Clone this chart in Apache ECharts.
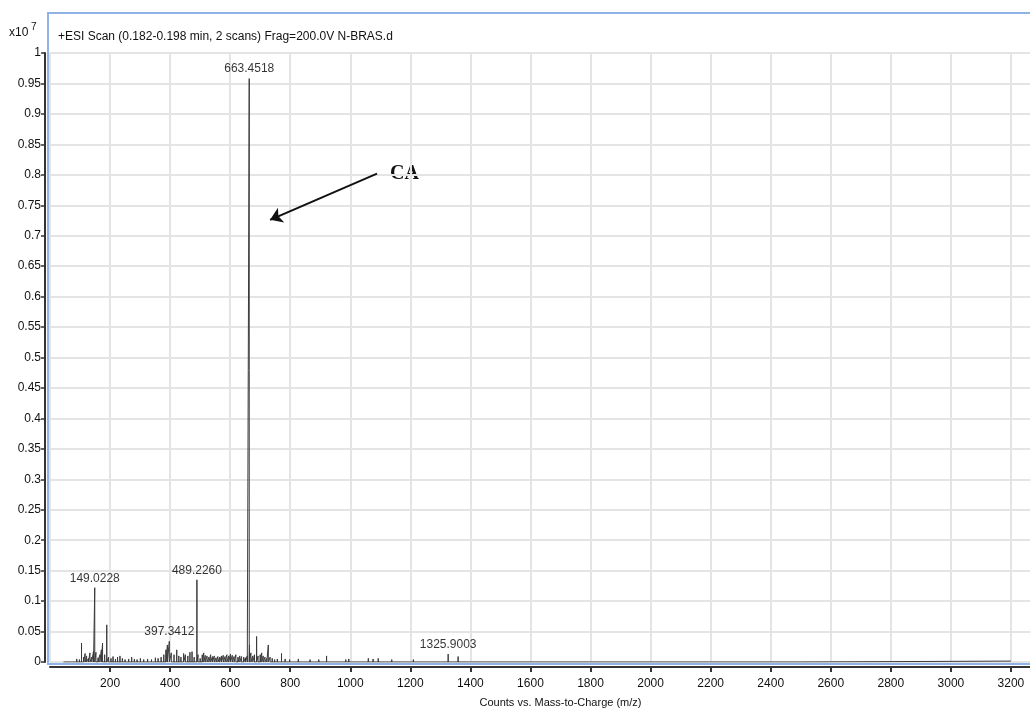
<!DOCTYPE html>
<html><head><meta charset="utf-8">
<script src="https://cdn.jsdelivr.net/npm/echarts@6/dist/echarts.min.js"></script>
<style>html,body{margin:0;padding:0;background:#fff}#c{width:1030px;height:710px}</style>
</head><body><div id="c"></div>
<script>
// ---- data (intensity in units of x10^7 counts) ----
const titleText = '+ESI Scan (0.182-0.198 min, 2 scans) Frag=200.0V N-BRAS.d';
const xAxisName = 'Counts vs. Mass-to-Charge (m/z)';
const peakMz = [72,89,98,105,112,117,122,128,133,139,145,149.0228,153,160,166,171,175,182,189,195,
  203,210,218,225,233,241,250,262,272,281,290,301,312,325,338,351,360,370,379,386,391,397.3412,404,413,
  422,429,436,445,451,459,466,473,480,489.2260,493,500,507,512,517,523,529,535,541,547,553,559,565,571,
  577,583,589,595,601,607,613,619,626,632,638,645,651,657,663.4518,664.45,669,675,681,688,693,700,705,
  710,716,722,727,733,740,748,757,771,783,798,812,827,845,866,880,895,921,948,985,995,1024,1060,1076,
  1093,1118,1138,1175,1210,1226,1265,1300,1325.9003,1359,1390,1450];
const peakInt = [0.003,0.005,0.004,0.031,0.008,0.014,0.010,0.006,0.015,0.008,0.018,0.122,0.016,0.007,0.012,0.020,0.031,0.012,0.061,0.008,
  0.006,0.009,0.005,0.008,0.010,0.006,0.004,0.005,0.008,0.005,0.004,0.006,0.004,0.005,0.004,0.007,0.006,0.008,0.012,0.020,0.028,0.034,0.015,0.012,
  0.020,0.010,0.008,0.014,0.012,0.010,0.016,0.017,0.008,0.135,0.012,0.006,0.012,0.015,0.011,0.010,0.008,0.012,0.009,0.010,0.007,0.009,0.008,0.010,
  0.011,0.009,0.012,0.010,0.013,0.011,0.009,0.012,0.008,0.010,0.009,0.008,0.007,0.010,0.958,0.028,0.015,0.010,0.012,0.042,0.010,0.012,0.015,
  0.010,0.008,0.006,0.028,0.008,0.006,0.004,0.005,0.014,0.005,0.004,0.003,0.005,0.003,0.004,0.003,0.004,0.010,0.003,0.004,0.005,0.003,0.006,0.005,
  0.006,0.003,0.004,0.003,0.004,0.003,0.002,0.003,0.013,0.009,0.002,0.002];
const baselineMz = [45, 2500, 2500, 3200];
const baselineInt = [0, 0, 0.0015, 0.0015];
const labeledMz = [149.0228, 397.3412, 489.2260, 663.4518, 1325.9003];
const labeledInt = [0.122, 0.034, 0.135, 0.958, 0.013];
const arrowFrom = [1089, 0.802];
const arrowTo = [733, 0.726];
const arrowText = 'CA';

// ---- build stick trace ----
const trace = [[baselineMz[0], baselineInt[0]]];
peakMz.forEach((m, i) => { trace.push([m, 0], [m, peakInt[i]], [m, 0]); });
for (let i = 1; i < baselineMz.length; i++) trace.push([baselineMz[i], baselineInt[i]]);

const FONT = "'Liberation Sans',Arial,sans-serif";
const chart = echarts.init(document.getElementById('c'), null, {renderer: 'canvas'});
chart.setOption({
  animation: false,
  backgroundColor: '#fff',
  title: {text: titleText, left: 53, top: 26, textStyle: {fontFamily: FONT, fontSize: 12, fontWeight: 'normal', color: '#111'}},
  grid: {left: 50, top: 53, height: 609, width: 1021, outerBoundsMode: 'none', containLabel: false},
  xAxis: {
    type: 'value', min: 0, max: 3400, interval: 200, offset: 5,
    name: xAxisName, nameLocation: 'middle', nameGap: 30,
    nameTextStyle: {fontFamily: FONT, fontSize: 11, color: '#111'},
    axisLine: {show: true, onZero: false, lineStyle: {color: '#333', width: 2}},
    axisTick: {show: true, length: 5, lineStyle: {color: '#333', width: 2}},
    axisLabel: {fontFamily: FONT, fontSize: 12, color: '#111', margin: 11, showMinLabel: false, showMaxLabel: false,
      formatter: v => String(v)},
    splitLine: {show: true, lineStyle: {color: '#e4e4e4', width: 2}}
  },
  yAxis: {
    type: 'value', min: 0, max: 1, interval: 0.05, offset: 5,
    axisLine: {show: true, onZero: false, lineStyle: {color: '#333', width: 2}},
    axisTick: {show: true, length: 4, lineStyle: {color: '#333', width: 1.5}},
    axisLabel: {fontFamily: FONT, fontSize: 12, color: '#111', margin: 4,
      formatter: v => String(+v.toFixed(2))},
    splitLine: {show: true, lineStyle: {color: '#e4e4e4', width: 2}}
  },
  graphic: [
    {type: 'polyline', shape: {points: [[1040, 13], [48, 13], [48, 664], [1040, 664]]}, style: {stroke: '#8fb3e6', lineWidth: 2, fill: null}, z: 0},
    {type: 'text', left: 9, top: 27, style: {text: 'x10', font: "12px " + FONT, fill: '#111'}},
    {type: 'text', left: 31, top: 22, style: {text: '7', font: "10px " + FONT, fill: '#111'}},
    {type: 'text', left: 390, top: 164, style: {text: arrowText, font: "bold 20px 'Liberation Serif','DejaVu Serif',serif", fill: '#111'}}
  ],
  series: [
    {
      type: 'line', data: trace, showSymbol: false, symbol: 'none',
      lineStyle: {color: '#3a3a3a', width: 1}, z: 3,
      markLine: {
        silent: true, symbol: ['none', 'arrow'], symbolSize: 12,
        lineStyle: {color: '#111', width: 2, type: 'solid'}, label: {show: false},
        data: [[{coord: arrowFrom}, {coord: arrowTo}]]
      }
    },
    {
      type: 'scatter', data: labeledMz.map((m, i) => [m, labeledInt[i]]),
      symbol: 'circle', symbolSize: 1, itemStyle: {color: 'rgba(0,0,0,0)'}, z: 4,
      label: {show: true, position: 'top', distance: 3, fontFamily: FONT, fontSize: 12, color: '#000',
        formatter: p => p.value[0].toFixed(4)}
    }
  ]
});
</script></body></html>
